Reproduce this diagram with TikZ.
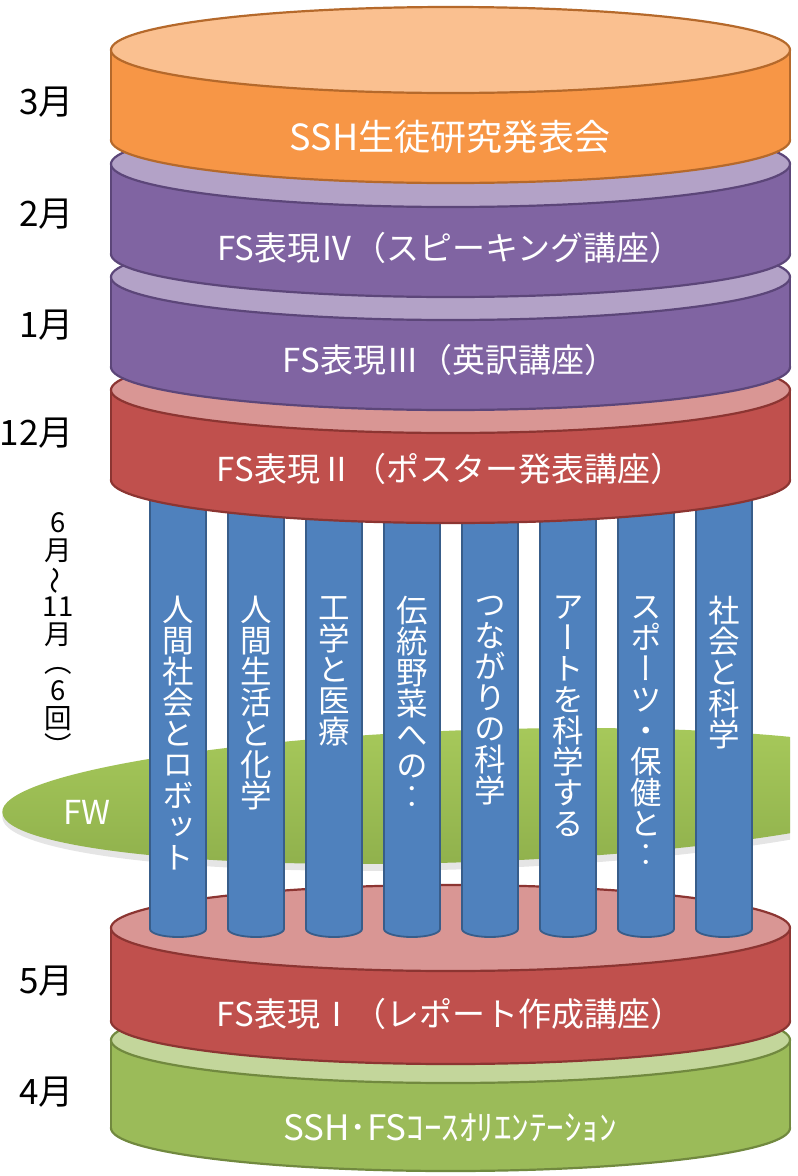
\documentclass[tikz,border=0pt]{standalone}
\usepackage{fontspec}
\usepackage{graphicx}
\newfontfamily\jp{Noto Sans CJK JP}
\newfontfamily\jpv[RawFeature={+vert}]{Noto Sans CJK JP}
\definecolor{orside}{HTML}{F79646}
\definecolor{ortop}{HTML}{FAC090}
\definecolor{orline}{HTML}{B5692B}
\definecolor{puside}{HTML}{8064A2}
\definecolor{putop}{HTML}{B3A2C7}
\definecolor{puline}{HTML}{5C4679}
\definecolor{reside}{HTML}{C0504D}
\definecolor{retop}{HTML}{D99694}
\definecolor{reline}{HTML}{8C3532}
\definecolor{grside}{HTML}{9BBB59}
\definecolor{grtop}{HTML}{C3D69B}
\definecolor{grline}{HTML}{71893F}
\definecolor{pilblue}{HTML}{4F81BD}
\definecolor{pilline}{HTML}{385D8A}
\definecolor{fwtop}{HTML}{A6C85A}
\definecolor{fwbot}{HTML}{8FB04C}
\newcommand\drawcyl[5]{%
  \filldraw[fill=#3, draw=#5, line width=2.2pt] (450.5,#1+#2) ellipse [x radius=339.5, y radius=43];
  \fill[#3] (111,#1) rectangle (790,#1+#2);
  \draw[#5, line width=2.2pt] (111,#1) -- (111,#1+#2) (790,#1) -- (790,#1+#2);
  \filldraw[fill=#4, draw=#5, line width=2.2pt] (450.5,#1) ellipse [x radius=339.5, y radius=43];
}
\newcommand\drawpillar[3]{%
  \filldraw[fill=pilblue, draw=pilline, line width=1.8pt] (#1+28,929) ellipse [x radius=28, y radius=8];
  \fill[pilblue] (#1,470) rectangle (#1+56,929);
  \draw[pilline, line width=1.8pt] (#1,470) -- (#1,929) (#1+56,470) -- (#1+56,929);
  \node[piltext] (#2) at (#1+28,596) {#3};
}
\begin{document}
\begin{tikzpicture}[x=1pt,y=-1pt,
  layertext/.style={text=white, font=\jp\fontsize{33}{36}\selectfont, inner sep=0pt},
  month/.style={text=black, font=\jp\fontsize{35}{38}\selectfont, anchor=east, inner sep=0pt},
  vlab/.style={text=black, font=\jpv\fontsize{27.5}{28}\selectfont, align=center, anchor=north, inner sep=0pt},
  piltext/.style={text=white, font=\jpv\fontsize{31.5}{31}\selectfont, align=center, anchor=north, inner sep=0pt}]
\useasboundingbox (0,0) rectangle (798,1176);
\fill[white] (0,0) rectangle (798,1176);

% bottom layers
\drawcyl{1040}{88}{grside}{grtop}{grline}
\node[layertext, font=\jp\fontsize{35}{38}\selectfont] (orient) at (450,1128) {SSH･FSｺｰｽｵﾘｴﾝﾃｰｼｮﾝ};
\drawcyl{928}{93}{reside}{retop}{reline}
\node[layertext] (fs1) at (450,1014) {FS表現Ⅰ（レポート作成講座）};

% FW
\begin{scope}
  \clip (0,0) rectangle (790,1176);
  \fill[black, opacity=0.10, rotate around={2:(470,801)}] (470,801) ellipse [x radius=468, y radius=68];
  \shade[top color=fwtop, bottom color=fwbot, rotate around={2:(470,796)}] (470,796) ellipse [x radius=468, y radius=66];
\end{scope}
\node[text=white, font=\jp\fontsize{33}{35}\selectfont, inner sep=0pt] (fw) at (87,812) {FW};

% pillars
\drawpillar{150}{p1}{人\\間\\社\\会\\と\\ロ\\ボ\\ッ\\ト}
\drawpillar{228}{p2}{人\\間\\生\\活\\と\\化\\学}
\drawpillar{306}{p3}{工\\学\\と\\医\\療}
\drawpillar{384}{p4}{伝\\統\\野\\菜\\へ\\の\\‥}
\drawpillar{462}{p5}{つ\\な\\が\\り\\の\\科\\学}
\drawpillar{540}{p6}{ア\\ー\\ト\\を\\科\\学\\す\\る}
\drawpillar{618}{p7}{ス\\ポ\\ー\\ツ\\・\\保\\健\\と\\‥}
\drawpillar{696}{p8}{社\\会\\と\\科\\学}

% upper layers
\drawcyl{390}{90}{reside}{retop}{reline}
\node[layertext] (fs2) at (450,469) {FS表現Ⅱ（ポスター発表講座）};
\drawcyl{277}{90}{puside}{putop}{puline}
\node[layertext] (fs3) at (450,360) {FS表現Ⅲ（英訳講座）};
\drawcyl{164}{90}{puside}{putop}{puline}
\node[layertext] (fs4) at (450,248) {FS表現Ⅳ（スピーキング講座）};
\drawcyl{50}{90}{orside}{ortop}{orline}
\node[layertext, font=\jp\fontsize{36}{38}\selectfont] (ssh) at (450,137) {SSH生徒研究発表会};

% month labels
\node[month] (m3) at (74,102) {3月};
\node[month] (m2) at (74,214) {2月};
\node[month] (m1) at (74,325) {1月};
\node[month] (m12) at (74,433) {12月};
\node[month] (m5) at (74,981) {5月};
\node[month] (m4) at (74,1092) {4月};
% vertical label 6月～11月（6回）
\node[vlab] (m611) at (58,512) {6\\月\\\rotatebox[origin=c]{90}{\jp ～}\\11\\月\\（\\6\\回\\）};
\end{tikzpicture}
\end{document}
